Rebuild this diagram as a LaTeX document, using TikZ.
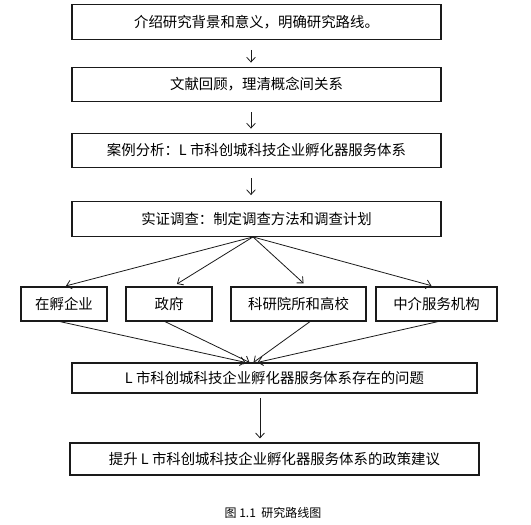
\documentclass[tikz,border=0pt]{standalone}
\usepackage{fontspec}
\usepackage{tikz}
\usetikzlibrary{arrows.meta,positioning,calc}
\newfontfamily\cjk{Noto Sans CJK SC}
\definecolor{Ink}{HTML}{1A1A1A}
\tikzset{
  >={Straight Barb[length=3.6pt,width=6.6pt]},
  stage/.style={rectangle,draw=Ink,line width=.9pt,fill=white,inner sep=0pt,
    minimum height=26pt,font=\cjk\fontsize{10.8}{13}\selectfont},
  wide/.style={stage,minimum width=276.75pt},
  actor/.style={stage,minimum height=25.5pt},
  flow/.style={->,line width=.6pt,draw=Ink},
  figcaption/.style={font=\cjk\fontsize{9}{11}\selectfont,inner sep=0pt}
}
\begin{document}
\begin{tikzpicture}[x=.75pt,y=-.75pt]
      \useasboundingbox (0,0) rectangle (531,524);
      \node[wide] (intro)  at (256.5,22)   {介绍研究背景和意义，明确研究路线。};
      \node[wide] (review) at (256.5,84.5) {文献回顾，理清概念间关系};
      \node[wide] (case)   at (256.5,150.5){案例分析：L 市科创城科技企业孵化器服务体系};
      \node[wide] (survey) at (256.5,219)  {实证调查：制定调查方法和调查计划};

      \node[actor,minimum width=64.5pt]  (firm)   at (64,304)    {在孵企业};
      \node[actor,minimum width=64.5pt]  (gov)    at (169,304)   {政府};
      \node[actor,minimum width=101.25pt](inst)   at (298.5,304) {科研院所和高校};
      \node[actor,minimum width=90.75pt] (agency) at (436.5,304) {中介服务机构};

      \node[stage,minimum width=303.75pt,minimum height=22.5pt] (issue)
         at (274.5,378) {L 市科创城科技企业孵化器服务体系存在的问题};
      \node[stage,minimum width=306.75pt,minimum height=24pt] (policy)
         at (274.5,459) {提升 L 市科创城科技企业孵化器服务体系的政策建议};

      \node[figcaption] (title) at (273,513) {图 1.1\ \ 研究路线图};

      % main line
      \draw[flow,shorten <=7.5pt,shorten >=3pt]
         ($(intro.south)+(-5.5,0)$)--($(review.north)+(-5.5,0)$);
      \draw[flow,shorten <=7.5pt,shorten >=3pt]
         ($(review.south)+(-5.5,0)$)--($(case.north)+(-5.5,0)$);
      \draw[flow,shorten <=7.5pt,shorten >=4.5pt]
         ($(case.south)+(-5.5,0)$)--($(survey.north)+(-5.5,0)$);

      % survey fans out
      \coordinate (fan) at ($(survey.south)+(-3.5,0)$);
      \draw[flow,shorten >=1.5pt] (fan)--(firm.north);
      \draw[flow,shorten >=3.5pt] (fan)--($(gov.north)+(4,0)$);
      \draw[flow,shorten >=3.5pt] (fan)--($(inst.north)+(8.5,0)$);
      \draw[flow,shorten >=2pt]   (fan)--($(agency.north)+(-2.5,0)$);

      % and comes together again
      \draw[flow] ($(firm.south)+(-4,0)$)--($(issue.north)+(-29,0)$);
      \draw[flow] ($(gov.south)+(-4,0)$)--($(issue.north)+(-25,0)$);
      \draw[flow] ($(inst.south)+(11.5,0)$)--($(issue.north)+(-21,0)$);
      \draw[flow] ($(agency.south)+(1.5,0)$)--($(issue.north)+(-17,0)$);

      \draw[flow,shorten <=3.5pt,shorten >=3pt]
         ($(issue.south)+(-14.5,0)$)--($(policy.north)+(-14.5,0)$);
    \end{tikzpicture}
\end{document}
